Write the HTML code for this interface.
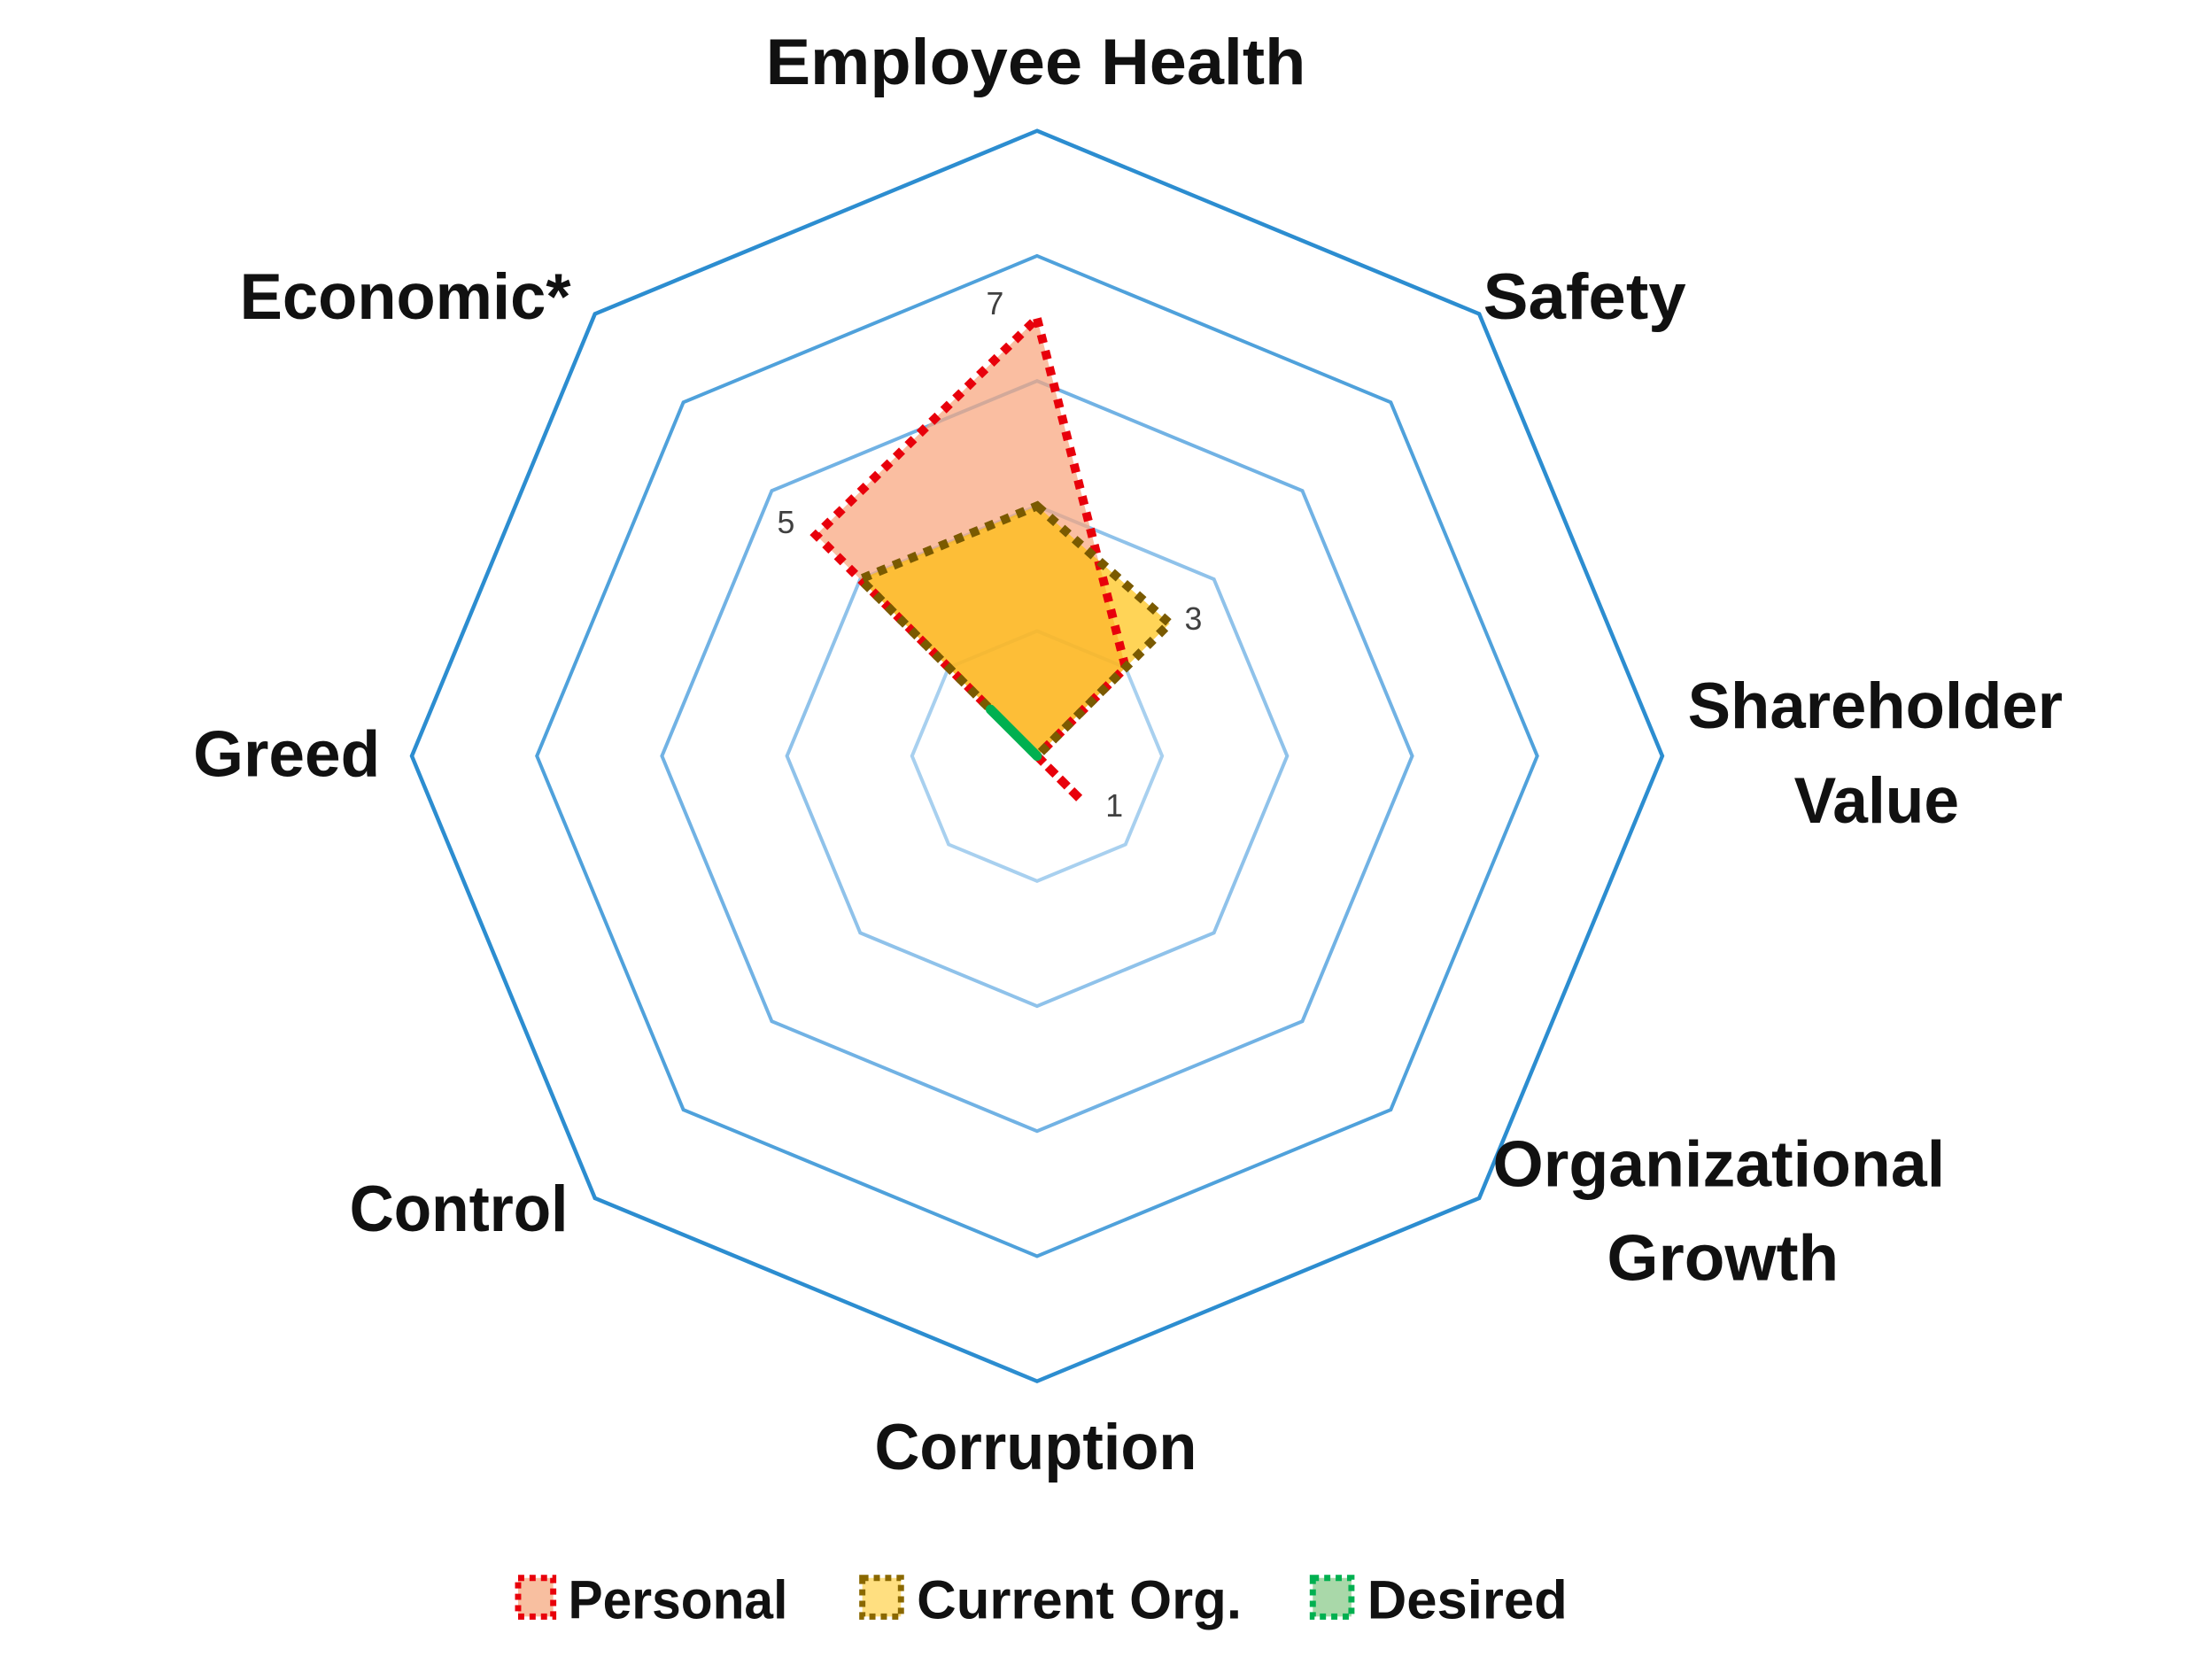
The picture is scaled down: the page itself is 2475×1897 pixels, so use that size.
<!DOCTYPE html>
<html><head><meta charset="utf-8"><style>html,body{margin:0;padding:0;background:#fff}svg{display:block}</style></head>
<body>
<svg width="2475" height="1897" viewBox="0 0 2475 1897" xmlns="http://www.w3.org/2000/svg">
<rect width="2475" height="1897" fill="#fff"/>
<g transform="scale(0.9915)">
<g fill="none" stroke-width="4" stroke-linejoin="miter">
<polygon stroke="#A8D0EF" points="1181,718.6 1281.7,760.3 1323.4,861 1281.7,961.7 1181,1003.4 1080.3,961.7 1038.6,861 1080.3,760.3"/>
<polygon stroke="#8FC2EA" points="1181,576.2 1382.4,659.6 1465.8,861 1382.4,1062.4 1181,1145.8 979.6,1062.4 896.2,861 979.6,659.6"/>
<polygon stroke="#71B2E4" points="1181,433.8 1483.1,558.9 1608.2,861 1483.1,1163.1 1181,1288.2 878.9,1163.1 753.8,861 878.9,558.9"/>
<polygon stroke="#4FA1DB" points="1181,291.4 1583.8,458.2 1750.6,861 1583.8,1263.8 1181,1430.6 778.2,1263.8 611.4,861 778.2,458.2"/>
<polygon stroke="#2C8DD0" stroke-width="4.5" points="1181,149 1684.5,357.5 1893,861 1684.5,1364.5 1181,1573 677.5,1364.5 469,861 677.5,357.5"/>
</g>
<polygon fill="rgb(248,165,125)" fill-opacity="0.72" points="1181,362.6 1281.7,760.3 1181,861 1231.3,911.3 1181,861 1181,861 1181,861 929.3,609.3"/>
<polygon fill="rgb(255,190,0)" fill-opacity="0.66" points="1181,576.2 1332,710 1181,861 1181,861 1181,861 1181,861 1181,861 979.6,659.6"/>
<g fill="none" stroke-width="10" stroke-dasharray="10 9" stroke-linejoin="miter">
<polygon stroke="#E8000B" points="1181,362.6 1281.7,760.3 1181,861 1231.3,911.3 1181,861 929.3,609.3"/>
<polygon stroke="#7A5A00" points="1181,576.2 1332,710 1181,861 979.6,659.6"/>
</g>
<line x1="1181" y1="861" x2="1128" y2="808" stroke="#00B050" stroke-width="11" stroke-linecap="round"/>
<g font-family="Liberation Sans, sans-serif" font-size="36" fill="#404040">
<text x="1123" y="358">7</text>
<text x="885" y="607">5</text>
<text x="1349" y="717">3</text>
<text x="1259" y="930">1</text>
</g>
<g font-family="Liberation Sans, sans-serif" font-weight="bold" font-size="74" fill="#111">
<text x="872" y="96" textLength="615" lengthAdjust="spacingAndGlyphs">Employee Health</text>
<text x="1689" y="363" textLength="231" lengthAdjust="spacingAndGlyphs">Safety</text>
<text x="1922" y="829" textLength="427" lengthAdjust="spacingAndGlyphs">Shareholder</text>
<text x="2043" y="937" textLength="188" lengthAdjust="spacingAndGlyphs">Value</text>
<text x="1700" y="1351" textLength="515" lengthAdjust="spacingAndGlyphs">Organizational</text>
<text x="1830" y="1458" textLength="264" lengthAdjust="spacingAndGlyphs">Growth</text>
<text x="996" y="1673" textLength="367" lengthAdjust="spacingAndGlyphs">Corruption</text>
<text x="398" y="1402" textLength="249" lengthAdjust="spacingAndGlyphs">Control</text>
<text x="220" y="884" textLength="213" lengthAdjust="spacingAndGlyphs">Greed</text>
<text x="273" y="363" textLength="377" lengthAdjust="spacingAndGlyphs">Economic*</text>
</g>
<g stroke-width="7" stroke-dasharray="7 6">
<rect x="590" y="1797" width="40" height="44" fill="#F8BFA0" stroke="#E8000B"/>
<rect x="982" y="1797" width="44" height="44" fill="#FFDF80" stroke="#8A6800"/>
<rect x="1495" y="1797" width="44" height="44" fill="#A9D8A9" stroke="#00B050"/>
</g>
<g font-family="Liberation Sans, sans-serif" font-weight="bold" font-size="62" fill="#111">
<text x="647" y="1843" textLength="250" lengthAdjust="spacingAndGlyphs">Personal</text>
<text x="1044" y="1843" textLength="370" lengthAdjust="spacingAndGlyphs">Current Org.</text>
<text x="1557" y="1843" textLength="228" lengthAdjust="spacingAndGlyphs">Desired</text>
</g>
</g>
</svg>
</body></html>
